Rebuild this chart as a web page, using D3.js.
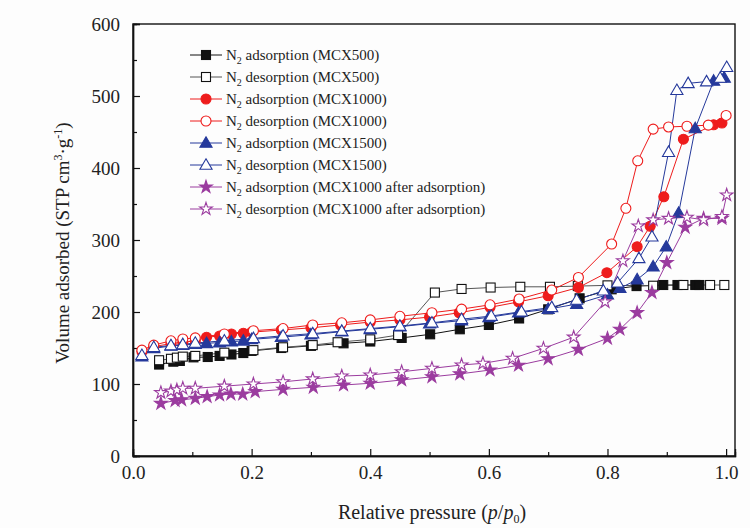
<!DOCTYPE html>
<html>
<head>
<meta charset="utf-8">
<script src="https://cdn.jsdelivr.net/npm/d3@7"></script>
<style>
  html, body { margin: 0; padding: 0; background: #fff; }
  svg { display: block; font-family: "Liberation Serif", "Times New Roman", serif; }
</style>
</head>
<body>
<svg id="chart" width="750" height="528"></svg>
<script>
// ---------- DATA ----------
const xTicks = [0, 0.2, 0.4, 0.6, 0.8, 1.0];
const xTickLabels = ["0.0", "0.2", "0.4", "0.6", "0.8", "1.0"];
const yTicks = [0, 100, 200, 300, 400, 500, 600];
const yTickLabels = ["0", "100", "200", "300", "400", "500", "600"];

const pMCX500Ads = [0.044, 0.068, 0.079, 0.102, 0.126, 0.146, 0.166, 0.186, 0.2, 0.25, 0.3, 0.355, 0.4, 0.453, 0.501, 0.551, 0.6, 0.651, 0.7, 0.753, 0.807, 0.849, 0.894, 0.918, 0.948, 0.955];
const vMCX500Ads = [127, 131, 132, 137, 137.5, 139, 141, 143, 146, 150, 153, 156.5, 159, 164, 169, 176, 182, 191, 203.7, 219, 231.5, 236, 237.5, 237.5, 237.5, 237.5];

const pMCX500Des = [0.044, 0.064, 0.074, 0.084, 0.105, 0.154, 0.203, 0.253, 0.303, 0.345, 0.4, 0.447, 0.509, 0.554, 0.603, 0.653, 0.703, 0.75, 0.8, 0.877, 0.928, 0.973, 0.997];
const vMCX500Des = [133, 135, 136.6, 138, 139, 143.5, 147, 151, 154, 158, 162, 168, 227, 232, 234, 235, 235, 236, 237, 236.5, 237.5, 237.5, 237.5];

const pMCX1000Ads = [0.015, 0.035, 0.064, 0.084, 0.105, 0.124, 0.146, 0.166, 0.186, 0.2, 0.25, 0.3, 0.35, 0.4, 0.45, 0.5, 0.55, 0.602, 0.65, 0.7, 0.751, 0.799, 0.85, 0.872, 0.895, 0.928, 0.979, 0.993];
const vMCX1000Ads = [145, 152, 156, 158, 160, 165, 166.7, 169.5, 170.5, 172, 175, 178, 182, 186, 189, 193, 199, 206.5, 214, 222.6, 234, 254.6, 290.7, 319, 360, 440, 460, 462.5];

const pMCX1000Des = [0.015, 0.035, 0.064, 0.084, 0.105, 0.154, 0.203, 0.253, 0.303, 0.352, 0.4, 0.45, 0.504, 0.554, 0.602, 0.651, 0.706, 0.751, 0.807, 0.831, 0.851, 0.877, 0.903, 0.934, 0.97, 1.0];
const vMCX1000Des = [147, 154, 160, 162.5, 164, 169.5, 174, 177, 182, 185, 189, 194, 199, 204, 210, 218, 230.5, 248, 294.4, 344, 410, 454, 457, 458, 459.5, 473];

const pMCX1500Ads = [0.015, 0.035, 0.064, 0.084, 0.105, 0.124, 0.146, 0.166, 0.186, 0.2, 0.25, 0.3, 0.352, 0.4, 0.45, 0.5, 0.554, 0.6, 0.65, 0.7, 0.748, 0.8, 0.821, 0.85, 0.877, 0.899, 0.92, 0.948, 0.979, 0.997];
const vMCX1500Ads = [138, 149.5, 152.8, 154, 155.5, 156.5, 157.5, 158.8, 160, 162, 165, 168.5, 172.7, 176, 179.6, 184, 188, 192.6, 199, 204, 211, 224, 233, 245, 263, 290.7, 337.5, 455, 521, 525];

const pMCX1500Des = [0.015, 0.035, 0.064, 0.084, 0.105, 0.154, 0.203, 0.253, 0.303, 0.352, 0.4, 0.45, 0.504, 0.554, 0.604, 0.655, 0.706, 0.748, 0.793, 0.817, 0.853, 0.875, 0.903, 0.917, 0.936, 0.967, 0.99, 1.001];
const vMCX1500Des = [140, 151, 153.5, 155, 157, 160, 163.4, 167, 170, 173.5, 177, 180.5, 185, 190, 194.4, 200.5, 206.5, 216.7, 229.6, 240.7, 274.5, 304.6, 422, 508, 517.6, 520, 525, 540];

const pAfterAds = [0.047, 0.071, 0.082, 0.105, 0.125, 0.146, 0.165, 0.185, 0.206, 0.253, 0.304, 0.355, 0.4, 0.453, 0.504, 0.551, 0.602, 0.65, 0.7, 0.751, 0.8, 0.821, 0.85, 0.875, 0.9, 0.931, 0.962, 0.993];
const vAfterAds = [73, 77, 78, 80, 82.4, 84.7, 86, 86, 89.4, 92.6, 95.4, 98.6, 101, 105.6, 110, 114, 119.4, 126, 135, 148, 163.4, 176, 199, 227, 268.5, 317.6, 330, 330];

const pAfterDes = [0.047, 0.064, 0.074, 0.084, 0.105, 0.154, 0.203, 0.253, 0.303, 0.352, 0.4, 0.453, 0.504, 0.554, 0.59, 0.64, 0.692, 0.743, 0.796, 0.826, 0.852, 0.877, 0.903, 0.934, 0.962, 0.993, 1.001];
const vAfterDes = [88, 90, 91.7, 94, 94, 97, 100, 103, 107, 111, 112.5, 117, 121.7, 126.4, 128.7, 135.6, 149.5, 165, 214, 271, 319.4, 327.8, 330, 331.5, 328, 332.5, 362.5];

const seriesNames = [
  "adsorption (MCX500)", "desorption (MCX500)",
  "adsorption (MCX1000)", "desorption (MCX1000)",
  "adsorption (MCX1500)", "desorption (MCX1500)",
  "adsorption (MCX1000 after adsorption)", "desorption (MCX1000 after adsorption)"
];

// ---------- STYLE / SERIES DEFS ----------
const seriesDefs = [
  { p: pMCX500Ads,  v: vMCX500Ads,  color: "#111111", line: "#111111", shape: "square",   fill: true },
  { p: pMCX500Des,  v: vMCX500Des,  color: "#111111", line: "#555555", shape: "square",   fill: false },
  { p: pMCX1000Ads, v: vMCX1000Ads, color: "#ee1c1c", line: "#ee1c1c", shape: "circle",   fill: true },
  { p: pMCX1000Des, v: vMCX1000Des, color: "#ee1c1c", line: "#ee1c1c", shape: "circle",   fill: false },
  { p: pMCX1500Ads, v: vMCX1500Ads, color: "#25399b", line: "#25399b", shape: "triangle", fill: true },
  { p: pMCX1500Des, v: vMCX1500Des, color: "#25399b", line: "#25399b", shape: "triangle", fill: false },
  { p: pAfterAds,   v: vAfterAds,   color: "#9b3c9f", line: "#9b3c9f", shape: "star",     fill: true },
  { p: pAfterDes,   v: vAfterDes,   color: "#9b3c9f", line: "#9b3c9f", shape: "star",     fill: false }
];

const svg = d3.select("#chart");
const W = 750, H = 528;
const mLeft = 133, mRight = 735, mTop = 24, mBottom = 456;

const x = d3.scaleLinear().domain([0, 1.015]).range([mLeft, mRight]);
const y = d3.scaleLinear().domain([0, 600]).range([mBottom, mTop]);

svg.append("rect").attr("width", W).attr("height", H).attr("fill", "#fdfdfd");

// Frame
svg.append("rect")
  .attr("x", mLeft).attr("y", mTop)
  .attr("width", mRight - mLeft).attr("height", mBottom - mTop)
  .attr("fill", "none").attr("stroke", "#111").attr("stroke-width", 1.4);

// Axes with inward ticks
const xAxis = d3.axisBottom(x).tickValues(xTicks).tickSize(-7).tickPadding(10)
  .tickFormat((d, i) => xTickLabels[i]);
const xMinor = d3.axisBottom(x).tickValues([0.1, 0.3, 0.5, 0.7, 0.9]).tickSize(-4).tickFormat("");
const yAxis = d3.axisLeft(y).tickValues(yTicks).tickSize(-7).tickPadding(13)
  .tickFormat((d, i) => yTickLabels[i]);
const yMinor = d3.axisLeft(y).tickValues([50, 150, 250, 350, 450, 550]).tickSize(-4).tickFormat("");

function styleAxis(g) {
  g.select(".domain").attr("stroke", "#111").attr("stroke-width", 1.4);
  g.selectAll(".tick line").attr("stroke", "#111").attr("stroke-width", 1.2);
  g.selectAll(".tick text").attr("fill", "#222")
    .style("font-family", "'Liberation Serif', serif").style("font-size", "19px");
}
svg.append("g").attr("transform", `translate(0,${mBottom})`).call(xAxis).call(styleAxis);
svg.append("g").attr("transform", `translate(0,${mBottom})`).call(xMinor).call(styleAxis);
svg.append("g").attr("transform", `translate(${mLeft},0)`).call(yAxis).call(styleAxis);
svg.append("g").attr("transform", `translate(${mLeft},0)`).call(yMinor).call(styleAxis);

// Marker drawing
const symStar = d3.symbol().type(d3.symbolStar).size(50)();
const symTri = d3.symbol().type(d3.symbolTriangle).size(64)();
function drawMarker(g, cx, cy, def) {
  const fill = def.fill ? def.color : "#fff";
  const sw = 1.1;
  if (def.shape === "square") {
    g.append("rect").attr("x", cx - 4.5).attr("y", cy - 4.5).attr("width", 9).attr("height", 9)
      .attr("fill", fill).attr("stroke", def.color).attr("stroke-width", sw);
  } else if (def.shape === "circle") {
    g.append("circle").attr("cx", cx).attr("cy", cy).attr("r", 5)
      .attr("fill", fill).attr("stroke", def.color).attr("stroke-width", sw);
  } else if (def.shape === "triangle") {
    g.append("path").attr("d", symTri).attr("transform", `translate(${cx},${cy + 0.8})`)
      .attr("fill", fill).attr("stroke", def.color).attr("stroke-width", sw);
  } else {
    g.append("path").attr("d", symStar).attr("transform", `translate(${cx},${cy})`)
      .attr("fill", fill).attr("stroke", def.color).attr("stroke-width", sw);
  }
}

const line = d3.line().x(d => x(d[0])).y(d => y(d[1]));
const plot = svg.append("g");
seriesDefs.forEach(def => {
  const pts = def.p.map((p, i) => [p, def.v[i]]);
  plot.append("path").datum(pts).attr("d", line)
    .attr("fill", "none").attr("stroke", def.line).attr("stroke-width", 1);
});
seriesDefs.forEach(def => {
  const g = plot.append("g");
  def.p.forEach((p, i) => drawMarker(g, x(p), y(def.v[i]), def));
});

// Legend
const legend = svg.append("g");
seriesDefs.forEach((def, i) => {
  const cy = 55 + i * 22;
  legend.append("line").attr("x1", 190).attr("x2", 222).attr("y1", cy).attr("y2", cy)
    .attr("stroke", def.line).attr("stroke-width", 1);
  drawMarker(legend, 206, cy, def);
  const t = legend.append("text").attr("x", 226).attr("y", cy + 5)
    .style("font-size", "15px").attr("fill", "#222");
  t.append("tspan").text("N");
  t.append("tspan").text("2").attr("dy", 4).style("font-size", "10px");
  t.append("tspan").text(" " + seriesNames[i]).attr("dy", -4);
});

// Axis titles
const xt = svg.append("text").attr("x", 432).attr("y", 519).attr("text-anchor", "middle")
  .style("font-size", "20px").attr("fill", "#222");
xt.append("tspan").text("Relative pressure (");
xt.append("tspan").text("p").style("font-style", "italic");
xt.append("tspan").text("/");
xt.append("tspan").text("p").style("font-style", "italic");
xt.append("tspan").text("0").attr("dy", 4).style("font-size", "12px");
xt.append("tspan").text(")").attr("dy", -4);

const yt = svg.append("text").attr("transform", "translate(69,243) rotate(-90)")
  .attr("text-anchor", "middle").style("font-size", "19px").attr("fill", "#222");
yt.append("tspan").text("Volume adsorbed (STP cm");
yt.append("tspan").text("3").attr("dy", -7).style("font-size", "12px");
yt.append("tspan").text("·g").attr("dy", 7);
yt.append("tspan").text("-1").attr("dy", -7).style("font-size", "12px");
yt.append("tspan").text(")").attr("dy", 7);
</script>
</body>
</html>
